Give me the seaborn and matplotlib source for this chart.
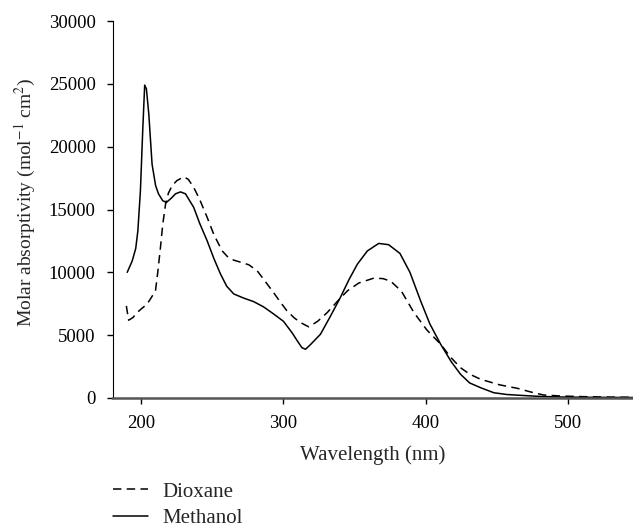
import pandas as pd
import numpy as np
import matplotlib
matplotlib.use('Agg')
import matplotlib.pyplot as plt
import seaborn as sns

# Absorption spectra (wavelength in nm, molar absorptivity)
methanol_wl = [190, 193.5, 196, 197.5, 199.3, 201, 202.3, 203.5, 205.2, 207.5, 210, 212, 215, 217.6,
               221, 224, 227.5, 231, 236.8, 241, 246.3, 251, 255.6, 260, 265, 272, 279,
               286, 293, 300, 306, 310, 313, 315.5, 319, 326, 333, 340, 346, 352, 359,
               367, 374, 382, 389, 396.5, 403, 410.6, 418, 424.6, 431, 438.7, 448, 457,
               467, 478, 488, 500, 520, 550]
methanol_ab = [10000, 10900, 11900, 13300, 16500, 21500, 24900, 24600, 22600, 18600, 16900, 16250, 15700, 15560,
               15900, 16250, 16400, 16250, 15170, 13900, 12500, 11100, 9880, 8900, 8280, 7950, 7670,
               7250, 6690, 6100, 5200, 4500, 4000, 3880, 4250, 5070, 6500, 7990, 9400, 10650, 11700,
               12300, 12200, 11500, 10000, 7730, 5900, 4280, 2900, 1890, 1200, 820, 420, 280,
               210, 140, 100, 70, 50, 40]

dioxane_wl = [189.4, 191, 194, 197, 200, 204, 207, 209.9, 211.5, 213.4, 215, 217, 219, 221.6,
              225, 229.8, 233, 236.8, 241, 246.3, 251, 256.8, 261, 265, 270, 275.6, 281.5,
              287, 293, 298, 302, 307.3, 312, 317.8, 324, 330.8, 338, 345, 353, 363.6,
              370, 375.4, 383, 391.8, 401, 410.6, 418, 424.6, 431, 438.7, 452, 464.6,
              474, 483, 495, 510, 530, 550]
dioxane_ab = [7330, 6190, 6400, 6800, 7100, 7470, 8000, 8530, 10000, 11980, 13800, 15430, 16300, 16900,
              17300, 17600, 17400, 16760, 15800, 14370, 13000, 11710, 11200, 10970, 10800, 10600, 10120,
              9300, 8390, 7600, 7000, 6400, 6000, 5660, 6100, 6800, 7700, 8530, 9150, 9540,
              9500, 9300, 8500, 6800, 5400, 4280, 3200, 2410, 1900, 1490, 1050, 770,
              480, 240, 160, 110, 70, 50]

df = pd.concat([
    pd.DataFrame({'Wavelength': dioxane_wl, 'Absorptivity': dioxane_ab, 'Solvent': 'Dioxane'}),
    pd.DataFrame({'Wavelength': methanol_wl, 'Absorptivity': methanol_ab, 'Solvent': 'Methanol'}),
])

sns.set_style('ticks')
plt.rcParams['font.family'] = ['Liberation Serif', 'DejaVu Serif']
plt.rcParams['mathtext.fontset'] = 'stix'

fig = plt.figure(figsize=(6.33, 5.29), dpi=100)
ax = fig.add_axes([113 / 633, 1 - 398 / 529, 520 / 633, 377 / 529])

sns.lineplot(data=df, x='Wavelength', y='Absorptivity', style='Solvent',
             style_order=['Dioxane', 'Methanol'],
             dashes={'Dioxane': (5.5, 3.5), 'Methanol': ''},
             color='black', linewidth=1.1, sort=False, estimator=None, ax=ax)

ax.set_xlim(180, 546)
ax.set_ylim(0, 30000)
ax.set_xticks([200, 300, 400, 500])
ax.set_yticks(range(0, 30001, 5000))
ax.tick_params(labelsize=13.5, length=4.5, width=1, pad=8, color='black', labelcolor='black')
ax.set_xlabel('Wavelength (nm)', fontsize=15, labelpad=9)
ax.set_ylabel('Molar absorptivity (mol$^{-1}$ cm$^{2}$)', fontsize=14)
ax.yaxis.set_label_coords(-0.144, 0.52)
sns.despine(ax=ax)
ax.spines['left'].set_color('black')
ax.spines['bottom'].set_color('#555555')
ax.spines['bottom'].set_linewidth(1.8)

handles, labels = ax.get_legend_handles_labels()
ax.get_legend().remove()
fig.legend(handles, labels, loc='upper left', bbox_to_anchor=(113 / 633, 1 - 482 / 529),
           bbox_transform=fig.transFigure, frameon=False, fontsize=15,
           handlelength=1.7, handletextpad=0.65, labelspacing=0.35,
           borderpad=0, borderaxespad=0)

fig.savefig('out.png', dpi=100)
